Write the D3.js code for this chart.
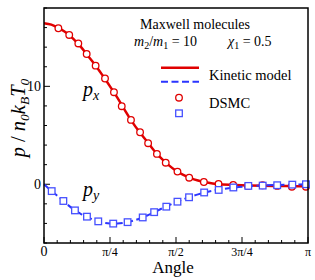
<!DOCTYPE html>
<html>
<head>
<meta charset="utf-8">
<script src="https://cdn.jsdelivr.net/npm/d3@7"></script>
<style>
  body { margin: 0; background: #fff; }
  text { font-family: "Liberation Serif", "Times New Roman", serif; }
</style>
</head>
<body>
<div id="chart"></div>
<script>
// Kinetic model curves (angle in degrees)
const modelAngle = [0, 5, 10, 15, 20, 25, 30, 35, 40, 45, 50, 55, 60, 65, 70, 75, 80, 85, 90,
    95, 100, 105, 110, 115, 120, 130, 140, 150, 160, 170, 180];
const modelPx = [16.45, 16.3, 15.95, 15.5, 14.85, 14.05, 13.1, 12.15, 11.1, 10.0, 8.85, 7.6, 6.4,
    5.35, 4.4, 3.45, 2.65, 1.95, 1.38, 0.95, 0.62, 0.38, 0.2, 0.08, 0.0, -0.08, -0.13, -0.16,
    -0.18, -0.2, -0.22];
const modelPy = [0, -0.68, -1.3, -1.95, -2.55, -3.02, -3.38, -3.7, -3.9, -4.0, -4.0, -3.92, -3.75,
    -3.52, -3.22, -2.87, -2.5, -2.15, -1.83, -1.53, -1.27, -1.03, -0.82, -0.66, -0.53, -0.33,
    -0.2, -0.12, -0.07, -0.03, 0];

// DSMC points
const dsmcPxAngle = [9.8, 17.2, 23.4, 29.1, 35.2, 41.6, 47.7, 53, 59.3, 65.5, 71, 77, 83, 91,
    99, 109, 119, 129, 139, 149, 159, 169, 178.6];
const dsmcPx = [15.93, 15.25, 14.38, 13.3, 12.11, 10.8, 9.4, 7.97, 6.57, 5.31, 4.19, 3.1, 2.2,
    1.29, 0.67, 0.23, 0.03, -0.07, -0.17, -0.1, -0.17, -0.25, -0.25];
const dsmcPyAngle = [5.25, 13.2, 21.1, 29.3, 37, 47.2, 57, 67.3, 75.1, 83.4, 91, 98.9, 109.2,
    119.1, 129.1, 139.3, 149.1, 159, 169.3, 178.6];
const dsmcPy = [-0.7, -1.71, -2.67, -3.31, -3.79, -4.02, -3.87, -3.39, -2.85, -2.29, -1.78, -1.33,
    -0.84, -0.58, -0.33, -0.17, -0.14, -0.1, -0.04, 0.0];

const xTicks = [0, 45, 90, 135, 180];
const xTickLabels = ["0", "π/4", "π/2", "3π/4", "π"];
const yTicks = [0, 10];

const red = "#e00000", blue = "#2b35ff";

const margin = {top: 8, right: 7, bottom: 37, left: 44},
    width = 315 - margin.left - margin.right,
    height = 280 - margin.top - margin.bottom;

const svg = d3.select("#chart")
    .append("svg")
    .attr("width", 315)
    .attr("height", 280)
    .append("g")
    .attr("transform", `translate(${margin.left},${margin.top})`);

const x = d3.scaleLinear().domain([0, 180]).range([0, width]);
const y = d3.scaleLinear().domain([-6, 18]).range([height, 0]);

// Ticks inside the frame
const xMinor = d3.range(0, 181, 9);
const yMinor = d3.range(-6, 19, 2);

svg.selectAll(".xminor")
    .data(xMinor)
    .enter().append("line")
    .attr("x1", d => x(d)).attr("x2", d => x(d))
    .attr("y1", height).attr("y2", d => height - (d % 45 === 0 ? 6 : 3))
    .attr("stroke", "#000").attr("stroke-width", 1);

svg.selectAll(".yminor")
    .data(yMinor)
    .enter().append("line")
    .attr("y1", d => y(d)).attr("y2", d => y(d))
    .attr("x1", 0).attr("x2", d => (d % 10 === 0 ? 6 : 3))
    .attr("stroke", "#000").attr("stroke-width", 1);

// Tick labels
svg.selectAll(".xlab")
    .data(xTicks)
    .enter().append("text")
    .attr("x", d => x(d))
    .attr("y", height + 13)
    .attr("text-anchor", "middle")
    .style("font-size", (d, i) => i === 0 ? "14px" : "12px")
    .text((d, i) => xTickLabels[i]);

svg.selectAll(".ylab")
    .data(yTicks)
    .enter().append("text")
    .attr("x", -3)
    .attr("y", d => y(d) + 5)
    .attr("text-anchor", "end")
    .style("font-size", "14px")
    .text(d => d);

// Axis titles
svg.append("text")
    .attr("x", 129)
    .attr("y", height + 30)
    .attr("text-anchor", "middle")
    .style("font-size", "17px")
    .text("Angle");

const yTitle = svg.append("text")
    .attr("transform", `translate(${25 - margin.left},${118 - margin.top}) rotate(-90)`)
    .attr("text-anchor", "middle")
    .style("font-size", "20.5px");
yTitle.append("tspan").style("font-style", "italic").text("p");
yTitle.append("tspan").text(" / ");
yTitle.append("tspan").style("font-style", "italic").text("n");
yTitle.append("tspan").style("font-size", "13.5px").style("font-style", "italic").attr("dy", 4).text("0");
yTitle.append("tspan").style("font-style", "italic").attr("dy", -4).text("k");
yTitle.append("tspan").style("font-size", "13.5px").style("font-style", "italic").attr("dy", 4).text("B");
yTitle.append("tspan").style("font-style", "italic").attr("dy", -4).text("T");
yTitle.append("tspan").style("font-size", "13.5px").style("font-style", "italic").attr("dy", 4).text("0");

// Curves
const line = d3.line()
    .x(d => x(d[0]))
    .y(d => y(d[1]))
    .curve(d3.curveCatmullRom);

svg.append("path")
    .datum(d3.zip(modelAngle, modelPx))
    .attr("fill", "none")
    .attr("stroke", red)
    .attr("stroke-width", 2.5)
    .attr("d", line);

svg.append("path")
    .datum(d3.zip(modelAngle, modelPy))
    .attr("fill", "none")
    .attr("stroke", blue)
    .attr("stroke-width", 2)
    .attr("stroke-dasharray", "7,3.5")
    .attr("d", line);

svg.selectAll(".circ")
    .data(d3.zip(dsmcPxAngle, dsmcPx))
    .enter().append("circle")
    .attr("cx", d => x(d[0]))
    .attr("cy", d => y(d[1]))
    .attr("r", 3.3)
    .attr("fill", "#fff")
    .attr("stroke", red)
    .attr("stroke-width", 1.3);

svg.selectAll(".sq")
    .data(d3.zip(dsmcPyAngle, dsmcPy))
    .enter().append("rect")
    .attr("x", d => x(d[0]) - 3.3)
    .attr("y", d => y(d[1]) - 3.3)
    .attr("width", 6.6)
    .attr("height", 6.6)
    .attr("fill", "#fff")
    .attr("stroke", "#4650ff")
    .attr("stroke-width", 1.3);

// Curve labels
const lx = svg.append("text")
    .attr("x", 83 - margin.left).attr("y", 96 - margin.top)
    .style("font-size", "20px").style("font-style", "italic");
lx.append("tspan").text("p");
lx.append("tspan").attr("dy", 4).style("font-size", "14px").text("x");

const ly = svg.append("text")
    .attr("x", 83 - margin.left).attr("y", 196 - margin.top)
    .style("font-size", "20px").style("font-style", "italic");
ly.append("tspan").text("p");
ly.append("tspan").attr("dy", 4).style("font-size", "14px").text("y");

// Annotation
svg.append("text")
    .attr("x", 140 - margin.left).attr("y", 28.5 - margin.top)
    .style("font-size", "14px")
    .text("Maxwell molecules");

const ann = svg.append("text")
    .attr("x", 134 - margin.left).attr("y", 46 - margin.top)
    .style("font-size", "14px");
ann.append("tspan").style("font-style", "italic").text("m");
ann.append("tspan").style("font-size", "10px").attr("dy", 3).text("2");
ann.append("tspan").attr("dy", -3).text("/");
ann.append("tspan").style("font-style", "italic").text("m");
ann.append("tspan").style("font-size", "10px").attr("dy", 3).text("1");
ann.append("tspan").attr("dy", -3).text(" = 10");
ann.append("tspan").attr("x", 228 - margin.left).style("font-style", "italic").text("χ");
ann.append("tspan").style("font-size", "10px").attr("dy", 3).text("1");
ann.append("tspan").attr("dy", -3).text(" = 0.5");

// Legend
const legend = svg.append("g").attr("transform", `translate(${-margin.left},${-margin.top})`);
legend.append("line")
    .attr("x1", 161).attr("x2", 199).attr("y1", 67.7).attr("y2", 67.7)
    .attr("stroke", red).attr("stroke-width", 2.5);
legend.append("line")
    .attr("x1", 161).attr("x2", 199).attr("y1", 81.7).attr("y2", 81.7)
    .attr("stroke", blue).attr("stroke-width", 2)
    .attr("stroke-dasharray", "7,3.5");
legend.append("text").attr("x", 209).attr("y", 80).style("font-size", "14.5px").text("Kinetic model");
legend.append("circle")
    .attr("cx", 179).attr("cy", 97.7).attr("r", 3.3)
    .attr("fill", "#fff").attr("stroke", red).attr("stroke-width", 1.3);
legend.append("rect")
    .attr("x", 179 - 3.3).attr("y", 113.3 - 3.3).attr("width", 6.6).attr("height", 6.6)
    .attr("fill", "#fff").attr("stroke", "#4650ff").attr("stroke-width", 1.3);
legend.append("text").attr("x", 209).attr("y", 108).style("font-size", "14.5px").text("DSMC");

// Frame
svg.append("rect")
    .attr("x", 0).attr("y", 0)
    .attr("width", width).attr("height", height)
    .attr("fill", "none")
    .attr("stroke", "#000")
    .attr("stroke-width", 1.5);
</script>
</body>
</html>
